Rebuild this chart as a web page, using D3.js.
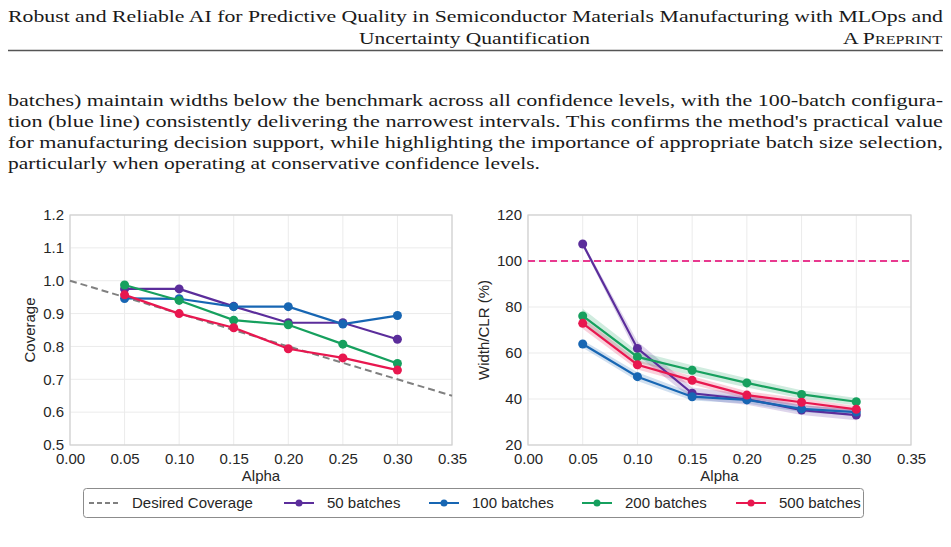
<!DOCTYPE html>
<html>
<head>
<meta charset="utf-8">
<script src="https://cdn.jsdelivr.net/npm/d3@7"></script>
<style>
  body { margin: 0; background: #fff; }
  svg { display: block; }
</style>
</head>
<body>
<div id="page"></div>
<script>
// ---- data ----
const alphas = [0.05, 0.10, 0.15, 0.20, 0.25, 0.30];
const seriesNames = ["50 batches", "100 batches", "200 batches", "500 batches"];
const seriesColors = ["#5b2d9b", "#1766b3", "#16a05e", "#e8174f"];

const coverage50 = [0.975, 0.975, 0.922, 0.872, 0.872, 0.822];
const coverage100 = [0.946, 0.945, 0.921, 0.921, 0.868, 0.894];
const coverage200 = [0.987, 0.940, 0.880, 0.866, 0.807, 0.748];
const coverage500 = [0.957, 0.900, 0.857, 0.793, 0.765, 0.728];

const desiredAlpha = [0.00, 0.35];
const desiredCoverage = [1.00, 0.65];

const width50 = [107.4, 62.0, 42.5, 39.9, 35.2, 33.0];
const width100 = [63.9, 49.7, 41.0, 39.6, 35.7, 34.3];
const width200 = [76.1, 58.3, 52.5, 47.0, 42.0, 38.8];
const width500 = [72.9, 54.9, 48.1, 41.7, 38.6, 35.5];

const width50Lo = [106.5, 59.0, 40.0, 37.5, 33.0, 30.8];
const width50Hi = [108.3, 65.0, 45.0, 42.3, 37.4, 35.2];
const width100Lo = [62.3, 47.8, 39.3, 38.0, 34.2, 32.8];
const width100Hi = [65.5, 51.6, 42.7, 41.2, 37.2, 35.8];
const width200Lo = [73.0, 55.8, 50.3, 45.0, 40.2, 37.2];
const width200Hi = [79.2, 60.8, 54.7, 49.0, 43.8, 40.4];
const width500Lo = [70.5, 52.8, 46.3, 40.0, 37.0, 34.0];
const width500Hi = [75.3, 57.0, 49.9, 43.4, 40.2, 37.0];

const benchmark = 100;

const xTicks = [0.00, 0.05, 0.10, 0.15, 0.20, 0.25, 0.30, 0.35];
const covTicks = [0.5, 0.6, 0.7, 0.8, 0.9, 1.0, 1.1, 1.2];
const widthTicks = [20, 40, 60, 80, 100, 120];

const headerLines = [
  "Robust and Reliable AI for Predictive Quality in Semiconductor Materials Manufacturing with MLOps and",
  "Uncertainty Quantification"
];
const paragraphLines = [
  "batches) maintain widths below the benchmark across all confidence levels, with the 100-batch configura-",
  "tion (blue line) consistently delivering the narrowest intervals. This confirms the method's practical value",
  "for manufacturing decision support, while highlighting the importance of appropriate batch size selection,",
  "particularly when operating at conservative confidence levels."
];

// ---- page ----
const W = 951, H = 547;
const svg = d3.select("#page").append("svg").attr("width", W).attr("height", H);
const serif = "'Liberation Serif', 'DejaVu Serif', serif";
const sans = "'Liberation Sans', Arial, sans-serif";

function serifText(x, y, anchor, len, str) {
  const t = svg.append("text").attr("x", x).attr("y", y).attr("text-anchor", anchor)
    .style("font-family", serif).style("font-size", "17.5px").attr("fill", "#1a1a1a");
  if (len) t.attr("textLength", len).attr("lengthAdjust", "spacingAndGlyphs");
  if (str) t.text(str);
  return t;
}

// header
serifText(8, 22, "start", 935, headerLines[0]);
serifText(359, 44, "start", 231, headerLines[1]);
const pre = serifText(843, 44, "start", 99, null);
pre.append("tspan").text("A P");
pre.append("tspan").style("font-size", "13px").text("REPRINT");
svg.append("line").attr("x1", 8).attr("x2", 943).attr("y1", 50.5).attr("y2", 50.5)
  .attr("stroke", "#555").attr("stroke-width", 1.3);

// paragraph
const paraLens = [935, 935, 935, 532];
paragraphLines.forEach((t, i) => serifText(8, 106 + i * 21, "start", paraLens[i], t));

// ---- charts ----
function drawPanel(opts) {
  const { left, right, top, bottom, yDomain, yTicks, yFmt, yLabel, yLabelX } = opts;
  const x = d3.scaleLinear().domain([0, 0.35]).range([left, right]);
  const y = d3.scaleLinear().domain(yDomain).range([bottom, top]);
  const g = svg.append("g");

  // grid
  g.append("g").selectAll("line").data(xTicks).join("line")
    .attr("x1", d => x(d)).attr("x2", d => x(d)).attr("y1", top).attr("y2", bottom)
    .attr("stroke", "#ebebeb").attr("stroke-width", 1);
  g.append("g").selectAll("line").data(yTicks).join("line")
    .attr("x1", left).attr("x2", right).attr("y1", d => y(d)).attr("y2", d => y(d))
    .attr("stroke", "#ebebeb").attr("stroke-width", 1);

  // axes
  const xAxis = g.append("g").attr("transform", `translate(0,${bottom})`)
    .call(d3.axisBottom(x).tickValues(xTicks).tickFormat(d3.format(".2f")).tickSize(0).tickPadding(8));
  const yAxis = g.append("g").attr("transform", `translate(${left},0)`)
    .call(d3.axisLeft(y).tickValues(yTicks).tickFormat(yFmt).tickSize(0).tickPadding(6));
  [xAxis, yAxis].forEach(a => {
    a.select(".domain").remove();
    a.selectAll("text").style("font-family", sans).style("font-size", "15px").attr("fill", "#262626");
  });
  g.append("rect").attr("x", left).attr("y", top).attr("width", right - left).attr("height", bottom - top)
    .attr("fill", "none").attr("stroke", "#d0d0d0").attr("stroke-width", 1.2);

  g.append("text").attr("x", (left + right) / 2).attr("y", 481).attr("text-anchor", "middle")
    .style("font-family", sans).style("font-size", "15px").attr("fill", "#262626").text("Alpha");
  g.append("text").attr("transform", `translate(${yLabelX},${(top + bottom) / 2}) rotate(-90)`)
    .attr("text-anchor", "middle").style("font-family", sans).style("font-size", "15px")
    .attr("fill", "#262626").text(yLabel);
  return { x, y, g };
}

function drawSeries(g, x, y, vals, color) {
  const pts = alphas.map((a, i) => [a, vals[i]]);
  g.append("path").datum(pts)
    .attr("d", d3.line().x(d => x(d[0])).y(d => y(d[1])))
    .attr("fill", "none").attr("stroke", color).attr("stroke-width", 2.2);
  g.append("g").selectAll("circle").data(pts).join("circle")
    .attr("cx", d => x(d[0])).attr("cy", d => y(d[1])).attr("r", 4.5).attr("fill", color);
}

function drawBand(g, x, y, lo, hi, color) {
  const pts = alphas.map((a, i) => [a, lo[i], hi[i]]);
  g.append("path").datum(pts)
    .attr("d", d3.area().x(d => x(d[0])).y0(d => y(d[1])).y1(d => y(d[2])))
    .attr("fill", color).attr("fill-opacity", 0.2);
}

// left: coverage
const L = drawPanel({ left: 70, right: 452, top: 215, bottom: 445, yDomain: [0.5, 1.2],
  yTicks: covTicks, yFmt: d3.format(".1f"), yLabel: "Coverage", yLabelX: 35 });
L.g.append("path").datum(desiredAlpha.map((a, i) => [a, desiredCoverage[i]]))
  .attr("d", d3.line().x(d => L.x(d[0])).y(d => L.y(d[1])))
  .attr("fill", "none").attr("stroke", "#808080").attr("stroke-width", 2).attr("stroke-dasharray", "7,4");
[coverage50, coverage100, coverage200, coverage500].forEach((v, i) => drawSeries(L.g, L.x, L.y, v, seriesColors[i]));

// right: width
const R = drawPanel({ left: 528, right: 911, top: 215, bottom: 445, yDomain: [20, 120],
  yTicks: widthTicks, yFmt: d3.format("d"), yLabel: "Width/CLR (%)", yLabelX: 489 });
R.g.append("line").attr("x1", R.x(0)).attr("x2", R.x(0.35)).attr("y1", R.y(benchmark)).attr("y2", R.y(benchmark))
  .attr("stroke", "#e8398f").attr("stroke-width", 2).attr("stroke-dasharray", "7,4");
const bandsLo = [width50Lo, width100Lo, width200Lo, width500Lo];
const bandsHi = [width50Hi, width100Hi, width200Hi, width500Hi];
bandsLo.forEach((lo, i) => drawBand(R.g, R.x, R.y, lo, bandsHi[i], seriesColors[i]));
[width50, width100, width200, width500].forEach((v, i) => drawSeries(R.g, R.x, R.y, v, seriesColors[i]));

// ---- legend ----
const lg = svg.append("g");
lg.append("rect").attr("x", 83.5).attr("y", 488.5).attr("width", 780).attr("height", 29).attr("rx", 3)
  .attr("fill", "#fff").attr("stroke", "#8c8c8c").attr("stroke-width", 1);
const legendItems = [{ name: "Desired Coverage", color: "#808080", dashed: true }]
  .concat(seriesNames.map((n, i) => ({ name: n, color: seriesColors[i], dashed: false })));
const legendX = [89, 284, 429, 582, 736];
legendItems.forEach((it, i) => {
  const gx = legendX[i], cy = 503;
  const item = lg.append("g");
  item.append("line").attr("x1", gx).attr("x2", gx + 30).attr("y1", cy).attr("y2", cy)
    .attr("stroke", it.color).attr("stroke-width", 2)
    .attr("stroke-dasharray", it.dashed ? "5,3" : null);
  if (!it.dashed) item.append("circle").attr("cx", gx + 15).attr("cy", cy).attr("r", 3.5).attr("fill", it.color);
  item.append("text").attr("x", gx + 43).attr("y", cy + 5)
    .style("font-family", sans).style("font-size", "15px").attr("fill", "#262626").text(it.name);
});
</script>
</body>
</html>
